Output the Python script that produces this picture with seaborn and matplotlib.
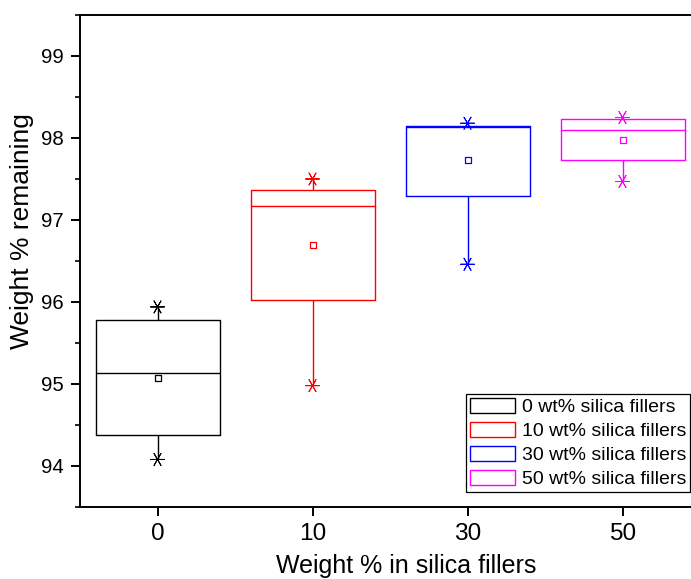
import numpy as np
import pandas as pd
import matplotlib
matplotlib.use('Agg')
import matplotlib.pyplot as plt
from matplotlib.patches import Patch
from matplotlib.ticker import MultipleLocator
import seaborn as sns

# Values
groups = ['0', '10', '30', '50']
labels = ['0 wt% silica fillers', '10 wt% silica fillers',
          '30 wt% silica fillers', '50 wt% silica fillers']
colors = ['#000000', '#FF0000', '#0000FF', '#FF00FF']

mins = [94.08, 94.98, 96.46, 97.47]
q1 = [94.38, 96.03, 97.29, 97.73]
medians = [95.13, 97.17, 98.13, 98.10]
q3 = [95.78, 97.37, 98.15, 98.23]
maxs = [95.94, 97.50, 98.18, 98.25]
means = [95.07, 96.70, 97.73, 97.98]

# five-number summary per group -> seaborn computes identical quartiles
rows = []
for g, l, a, b, c, d, e in zip(groups, labels, mins, q1, medians, q3, maxs):
    for v in (a, b, c, d, e):
        rows.append({'group': g, 'label': l, 'value': v})
box_df = pd.DataFrame(rows)

ext_df = pd.DataFrame({
    'group': groups * 2,
    'label': labels * 2,
    'value': mins + maxs,
})
mean_df = pd.DataFrame({'group': groups, 'label': labels, 'value': means})

sns.set_theme(style='ticks')
plt.rcParams['font.family'] = ['Liberation Sans', 'DejaVu Sans']
plt.rcParams['text.color'] = 'black'
plt.rcParams['axes.labelcolor'] = 'black'
plt.rcParams['xtick.color'] = 'black'
plt.rcParams['ytick.color'] = 'black'

fig = plt.figure(figsize=(6.91, 5.79), dpi=100)
ax = fig.add_axes([80 / 691, 1 - 507 / 579, 620 / 691, 492 / 579])

sns.boxplot(data=box_df, x='group', y='value', hue='label', order=groups,
            hue_order=labels, palette=colors, fill=False, whis=(0, 100),
            width=0.8, linewidth=1, showcaps=False, showfliers=False,
            dodge=False, legend=False, ax=ax)

sns.stripplot(data=ext_df, x='group', y='value', hue='label', order=groups,
              hue_order=labels, palette=colors, jitter=False, dodge=False,
              marker=(6, 2, 90), size=10, linewidth=0.7, legend=False, ax=ax)

n_before = len(ax.collections)
sns.stripplot(data=mean_df, x='group', y='value', hue='label', order=groups,
              hue_order=labels, palette=colors, jitter=False, dodge=False,
              marker='s', size=5, linewidth=0.9, legend=False, ax=ax)
# open squares for the means
for coll in ax.collections[n_before:]:
    fc = coll.get_facecolor()
    coll.set_edgecolor(fc)
    coll.set_facecolor('white')
    coll.set_zorder(5)

ax.set_xlim(-0.5, 3.5)
ax.set_ylim(93.5, 99.5)
ax.yaxis.set_major_locator(MultipleLocator(1))
ax.yaxis.set_minor_locator(MultipleLocator(0.5))

for sp in ax.spines.values():
    sp.set_visible(True)
    sp.set_linewidth(1.4)
    sp.set_color('black')

ax.tick_params(axis='both', which='major', direction='out', length=6.5,
               width=1.4, color='black', labelcolor='black', pad=5)
ax.tick_params(axis='y', which='minor', direction='out', length=3.5,
               width=1.2, color='black')
ax.tick_params(axis='x', labelsize=17.6)
ax.tick_params(axis='y', labelsize=14.7)

ax.set_xlabel('Weight % in silica fillers', fontsize=18, va='center',
              color='black')
ax.set_ylabel('Weight % remaining', fontsize=19, va='center', color='black')
ax.xaxis.set_label_coords(406 / 691, 1 - 566 / 579, transform=fig.transFigure)
ax.yaxis.set_label_coords(22 / 691, 1 - 231 / 579, transform=fig.transFigure)

handles = [Patch(facecolor='white', edgecolor=c, linewidth=1, label=l)
           for c, l in zip(colors, labels)]
leg = ax.legend(handles=handles, loc='lower right',
                bbox_to_anchor=((690 - 80) / 620, 15 / 492), fontsize=14,
                frameon=True, fancybox=False, edgecolor='black',
                framealpha=1, borderpad=0.2, labelspacing=0.28,
                handlelength=2.3, handleheight=0.85, handletextpad=0.35,
                borderaxespad=0)
leg.get_frame().set_linewidth(0.9)
for t in leg.get_texts():
    t.set_color('black')

fig.savefig('out.png', dpi=100)
